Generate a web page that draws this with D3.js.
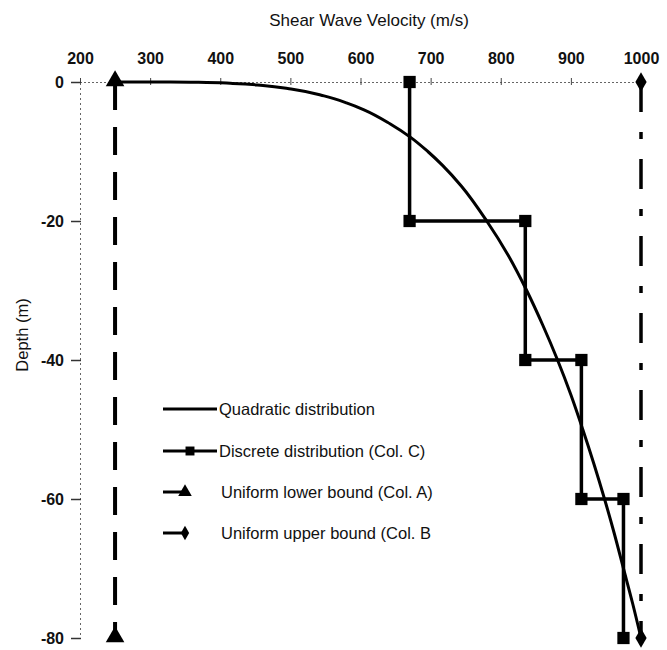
<!DOCTYPE html>
<html>
<head>
<meta charset="utf-8">
<script src="https://cdn.jsdelivr.net/npm/d3@7"></script>
<style>
  html, body { margin: 0; padding: 0; background: #fff; }
  svg { display: block; font-family: "Liberation Sans", Arial, sans-serif; }
</style>
</head>
<body>
<svg id="chart" width="667" height="650"></svg>
<script>
// ---- data ----
const xTicks = [200, 300, 400, 500, 600, 700, 800, 900, 1000];
const yTicks = [0, -20, -40, -60, -80];

// Quadratic distribution: depth (m) and velocity (m/s)
const quadDepth = [0, -0.01, -0.05, -0.2, -0.5, -1, -2, -3, -4, -6, -8, -10, -12, -15, -20, -25, -30, -35, -40, -45, -50, -55, -60, -65, -70, -75, -80];
const quadVel   = [250, 329, 369, 418, 461, 501, 548, 580, 605, 642, 672, 696, 717, 744, 780, 811, 837, 860, 881, 900, 917, 933, 948, 962, 975, 988, 1000];

// Discrete distribution (Col. C)
const discDepth = [0, -20, -20, -40, -40, -60, -60, -80];
const discVel   = [670, 670, 835, 835, 915, 915, 975, 975];

// Uniform lower bound (Col. A)
const lowDepth = [0, -80];
const lowVel   = [250, 250];

// Uniform upper bound (Col. B)
const upDepth = [0, -80];
const upVel   = [1000, 1000];

const legendLabels = ["Quadratic distribution", "Discrete distribution (Col. C)", "Uniform lower bound (Col. A)", "Uniform upper bound (Col. B"];

// ---- layout ----
const svg = d3.select("#chart");
const x = d3.scaleLinear().domain([200, 1000]).range([80, 641]);
const y = d3.scaleLinear().domain([0, -80]).range([82, 638]);

// axes
const xAxis = d3.axisTop(x).tickValues(xTicks).tickFormat(d => String(d)).tickSize(4).tickPadding(14);
const gx = svg.append("g").attr("transform", `translate(0,${y(0)})`).call(xAxis);
gx.select(".domain").attr("stroke", "#666").attr("stroke-dasharray", "2,2");
gx.selectAll(".tick line").attr("stroke", "#444").attr("y1", 3);
gx.selectAll("text").attr("font-size", 16).attr("font-weight", "bold").attr("fill", "#111")
  .attr("font-family", "Liberation Sans, Arial, sans-serif");

const yAxis = d3.axisLeft(y).tickValues(yTicks).tickFormat(d => String(d)).tickSize(9).tickPadding(7);
const gy = svg.append("g").attr("transform", `translate(${x(200)},0)`).call(yAxis);
gy.select(".domain").attr("stroke", "#666").attr("stroke-dasharray", "2,3");
gy.selectAll(".tick line").attr("stroke", "#333").attr("stroke-width", 1.5).attr("x1", 1);
gy.selectAll("text").attr("font-size", 16).attr("font-weight", "bold").attr("fill", "#111")
  .attr("font-family", "Liberation Sans, Arial, sans-serif");

// titles
svg.append("text").attr("x", 369).attr("y", 26).attr("text-anchor", "middle")
  .attr("font-size", 17).attr("fill", "#111").text("Shear Wave Velocity (m/s)");
svg.append("text").attr("transform", "translate(28,335) rotate(-90)").attr("text-anchor", "middle")
  .attr("font-size", 16.5).attr("fill", "#111").text("Depth (m)");

const line = d3.line().x(d => x(d[0])).y(d => y(d[1]));
const zip = (v, d) => v.map((vv, i) => [vv, d[i]]);

// lower bound (dashed)
svg.append("path").datum(zip(lowVel, lowDepth)).attr("d", line)
  .attr("fill", "none").attr("stroke", "#000").attr("stroke-width", 4)
  .attr("stroke-dasharray", "28,17");
// upper bound (dash-dot)
svg.append("path").datum(zip(upVel, upDepth)).attr("d", line)
  .attr("fill", "none").attr("stroke", "#000").attr("stroke-width", 3.5)
  .attr("stroke-dasharray", "30,20,7,20");
// discrete
svg.append("path").datum(zip(discVel, discDepth)).attr("d", line)
  .attr("fill", "none").attr("stroke", "#000").attr("stroke-width", 3.5);
// quadratic
svg.append("path").datum(zip(quadVel, quadDepth)).attr("d", line.curve(d3.curveMonotoneY))
  .attr("fill", "none").attr("stroke", "#000").attr("stroke-width", 3);
line.curve(d3.curveLinear);

// markers
const sq = d3.symbol().type(d3.symbolSquare).size(150);
const tri = d3.symbol().type(d3.symbolTriangle).size(150);
const dia = d3.symbol().type(d3.symbolDiamond).size(110);

svg.append("g").selectAll("path").data(zip(discVel, discDepth)).join("path")
  .attr("d", sq).attr("transform", d => `translate(${x(d[0])},${y(d[1])})`).attr("fill", "#000");
svg.append("g").selectAll("path").data(zip(lowVel, lowDepth)).join("path")
  .attr("d", tri).attr("transform", d => `translate(${x(d[0])},${y(d[1]) - 1})`).attr("fill", "#000");
svg.append("g").selectAll("path").data(zip(upVel, upDepth)).join("path")
  .attr("d", dia).attr("transform", d => `translate(${x(d[0])},${y(d[1])})`).attr("fill", "#000");

// legend
const lg = svg.append("g");
const rowsY = [409, 451, 492, 533];
const lx0 = 163;
// quadratic
lg.append("line").attr("x1", lx0).attr("x2", 217).attr("y1", rowsY[0]).attr("y2", rowsY[0])
  .attr("stroke", "#000").attr("stroke-width", 3);
// discrete
lg.append("line").attr("x1", lx0).attr("x2", 217).attr("y1", rowsY[1]).attr("y2", rowsY[1])
  .attr("stroke", "#000").attr("stroke-width", 3);
lg.append("path").attr("d", d3.symbol().type(d3.symbolSquare).size(80)).attr("transform", `translate(190,${rowsY[1]})`);
// lower
lg.append("line").attr("x1", lx0).attr("x2", 188).attr("y1", rowsY[2]).attr("y2", rowsY[2])
  .attr("stroke", "#000").attr("stroke-width", 3);
lg.append("path").attr("d", d3.symbol().type(d3.symbolTriangle).size(80)).attr("transform", `translate(185,${rowsY[2]})`);
// upper
lg.append("line").attr("x1", lx0).attr("x2", 186).attr("y1", rowsY[3]).attr("y2", rowsY[3])
  .attr("stroke", "#000").attr("stroke-width", 3);
lg.append("path").attr("d", d3.symbol().type(d3.symbolDiamond).size(60)).attr("transform", `translate(185,${rowsY[3]})`);

const textX = [219, 219, 221, 221];
lg.selectAll("text.lab").data(legendLabels).join("text").attr("class", "lab")
  .attr("x", (d, i) => textX[i]).attr("y", (d, i) => rowsY[i]).attr("dy", "0.35em")
  .attr("font-size", 16.5).attr("fill", "#111").text(d => d);
</script>
</body>
</html>
